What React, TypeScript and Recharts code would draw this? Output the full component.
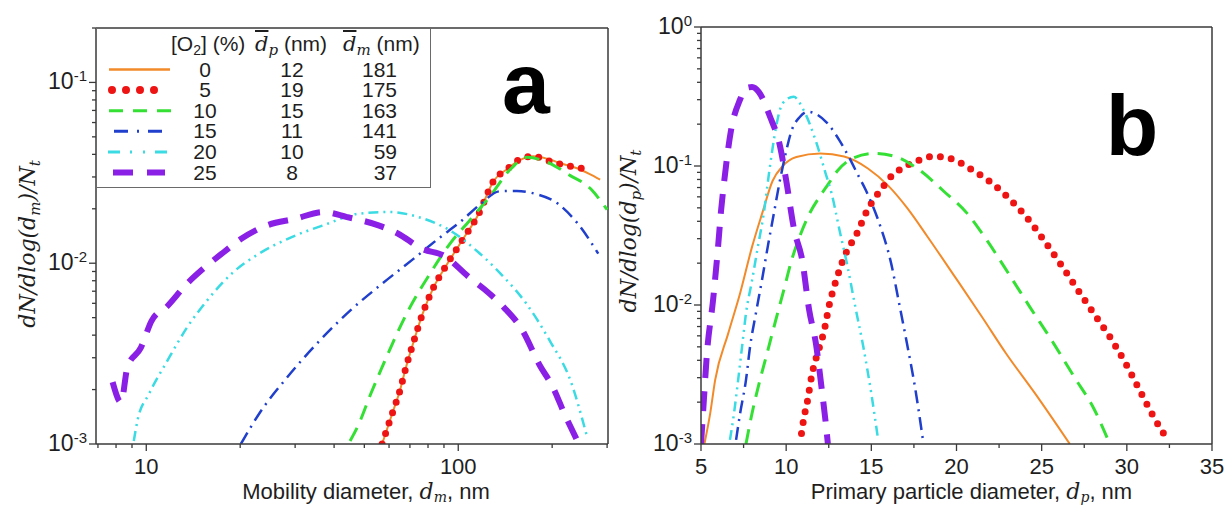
import React from 'react';
import { LineChart, Line, XAxis, YAxis, Legend, ReferenceLine } from 'recharts';

const SANS = 'Arial, "Liberation Sans", sans-serif';
const SERIF = '"DejaVu Serif", "Liberation Serif", serif';
const INK = '#1e1e1e';
const FRAME = '#3a3a3a';

type Pt = [number, number];

// legend table
const o2Levels = ['0', '5', '10', '15', '20', '25'];
const dpMean = ['12', '19', '15', '11', '10', '8'];
const dmMean = ['181', '175', '163', '141', '59', '37'];

// (a) mobility diameter, nm -> dN/dlog(dm)/Nt
const dm0: Pt[] = [
  [57, 0.001], [61.4, 0.00147], [65, 0.00197], [68, 0.00266], [72, 0.0037], [76.7, 0.0052],
  [83.5, 0.0074], [91.5, 0.0097], [103, 0.0134], [116, 0.0186], [130, 0.0286], [144, 0.0333],
  [156, 0.0368], [174, 0.039], [193, 0.0378], [214, 0.0356], [239, 0.0336], [263, 0.0312], [285, 0.029],
];
const dm5: Pt[] = [
  [57, 0.001], [61.4, 0.00147], [65, 0.00197], [68, 0.00266], [72, 0.0037], [76.7, 0.0052],
  [83.5, 0.0074], [91.5, 0.0097], [103, 0.0134], [116, 0.0186], [130, 0.0286], [144, 0.0333],
  [156, 0.0372], [174, 0.039], [193, 0.037], [214, 0.0352], [239, 0.0339], [265, 0.0327],
];
const dm10: Pt[] = [
  [45, 0.00104], [48, 0.00129], [52.4, 0.00189], [57, 0.00266], [62, 0.0037], [70, 0.0057],
  [81, 0.0087], [94, 0.0128], [109, 0.0173], [126, 0.0233], [148, 0.0335], [166, 0.0385],
  [185, 0.0372], [207, 0.034], [228, 0.0306], [250, 0.028], [268, 0.0254], [285, 0.0223], [300, 0.0198],
];
const dm15: Pt[] = [
  [20.1, 0.001], [23, 0.00147], [28.3, 0.00234], [35.8, 0.0037], [45.2, 0.0055], [57, 0.0077],
  [72, 0.0106], [86, 0.0136], [103, 0.0173], [118, 0.0213], [136, 0.025], [154, 0.0251],
  [175, 0.0243], [209, 0.0213], [242, 0.0165], [281, 0.0113],
];
const dm20: Pt[] = [
  [9.12, 0.00104], [9.39, 0.00137], [10.2, 0.00189], [11.7, 0.0029], [13.5, 0.0044], [15.7, 0.00625],
  [18.7, 0.0087], [23, 0.0113], [28.3, 0.0136], [38, 0.0165], [48, 0.0188], [60.5, 0.0192],
  [74.5, 0.018], [94, 0.0152], [116, 0.0115], [138, 0.0086], [165, 0.006], [197, 0.0037],
  [229, 0.00224], [259, 0.00109],
];
const dm25: Pt[] = [
  [7.8, 0.0022], [8.3, 0.0017], [8.7, 0.00266], [9.6, 0.0034], [10.4, 0.0048], [11.7, 0.0058],
  [13.5, 0.0077], [15.2, 0.0093], [17.7, 0.0115], [20.1, 0.0136], [24.4, 0.0162], [30, 0.0176],
  [36.9, 0.0192], [44, 0.018], [55.5, 0.0162], [64, 0.0146], [76.7, 0.012], [90, 0.011],
  [108, 0.0084], [121, 0.0072], [140, 0.0057], [160, 0.0043], [183, 0.0027], [200, 0.0021],
  [219, 0.00147], [239, 0.00107],
];

// (b) primary particle diameter, nm -> dN/dlog(dp)/Nt
const dp0: Pt[] = [
  [5.2, 0.001], [5.54, 0.00166], [5.83, 0.00288], [6.59, 0.0062], [7.3, 0.0122], [8.0, 0.0263],
  [8.6, 0.046], [9.2, 0.078], [9.8, 0.1], [10.6, 0.116], [12.0, 0.123], [13.4, 0.117],
  [14.8, 0.096], [16.0, 0.072], [17.1, 0.05], [18.3, 0.031], [19.9, 0.016], [21.5, 0.0082],
  [22.9, 0.0045], [24.6, 0.00232], [26.65, 0.001],
];
const dp5: Pt[] = [
  [10.9, 0.00119], [11.02, 0.00149], [11.26, 0.00207], [11.5, 0.0031], [11.96, 0.005], [12.2, 0.0063],
  [12.53, 0.01], [13.0, 0.016], [13.6, 0.025], [14.06, 0.031], [14.76, 0.048], [15.7, 0.071],
  [16.16, 0.084], [16.97, 0.099], [17.8, 0.11], [18.6, 0.117], [19.4, 0.115], [20.25, 0.105],
  [20.9, 0.094], [22.1, 0.075], [22.8, 0.063], [23.17, 0.057], [24.1, 0.043], [25.15, 0.029],
  [26.2, 0.019], [27.13, 0.0128], [28.06, 0.0087], [29.0, 0.0059], [29.93, 0.0038], [30.75, 0.00244],
  [31.57, 0.00157], [32.4, 0.00107],
];
const dp10: Pt[] = [
  [7.64, 0.001], [8.0, 0.00167], [8.46, 0.00288], [8.92, 0.0047], [9.39, 0.0078], [9.86, 0.0128],
  [10.32, 0.021], [10.79, 0.031], [11.38, 0.0457], [11.96, 0.06], [12.5, 0.075], [13.0, 0.092],
  [14.0, 0.115], [15.2, 0.123], [16.4, 0.117], [17.8, 0.094], [19.3, 0.065], [20.6, 0.046],
  [21.8, 0.029], [23.17, 0.016], [24.3, 0.0097], [25.7, 0.0053], [26.9, 0.00305], [28.06, 0.0018],
  [29.0, 0.001],
];
const dp15: Pt[] = [
  [7.06, 0.00107], [7.3, 0.00167], [7.64, 0.00288], [7.88, 0.005], [8.22, 0.0087], [8.58, 0.0151],
  [8.92, 0.0263], [9.28, 0.0457], [9.6, 0.075], [9.95, 0.12], [10.32, 0.18], [10.8, 0.225],
  [11.26, 0.246], [11.8, 0.235], [12.4, 0.204], [13.1, 0.155], [13.7, 0.115], [14.2, 0.087],
  [14.7, 0.066], [15.46, 0.039], [16.16, 0.02], [16.63, 0.0103], [17.09, 0.0053], [17.56, 0.00258],
  [18.03, 0.00107],
];
const dp20: Pt[] = [
  [6.7, 0.00107], [6.94, 0.00167], [7.18, 0.00288], [7.41, 0.005], [7.64, 0.0087], [8.0, 0.0151],
  [8.34, 0.0263], [8.69, 0.046], [9.0, 0.09], [9.3, 0.16], [9.62, 0.25], [10.0, 0.3],
  [10.44, 0.315], [11.02, 0.253], [11.72, 0.154], [12.31, 0.089], [12.66, 0.064], [13.13, 0.0347],
  [13.6, 0.019], [14.06, 0.0097], [14.53, 0.005], [15.0, 0.0023], [15.4, 0.00107],
];
const dp25: Pt[] = [
  [5.0, 0.001], [5.12, 0.00167], [5.35, 0.0045], [5.71, 0.0109], [6.0, 0.0261], [6.18, 0.048],
  [6.35, 0.0755], [6.76, 0.18], [7.29, 0.3], [7.65, 0.364], [8.0, 0.37], [8.4, 0.34],
  [9.06, 0.225], [9.65, 0.137], [10.0, 0.079], [10.47, 0.0347], [10.94, 0.0211], [11.35, 0.0092],
  [11.76, 0.00515], [12.06, 0.00265], [12.35, 0.00132], [12.45, 0.001],
];

// ticks
const aXMajor = [10, 100];
const aXMinor = [7, 8, 9, 20, 30, 40, 50, 60, 70, 80, 90, 200, 300];
const aYMajor = [0.001, 0.01, 0.1];
const aYMinor = [
  0.002, 0.003, 0.004, 0.005, 0.006, 0.007, 0.008, 0.009,
  0.02, 0.03, 0.04, 0.05, 0.06, 0.07, 0.08, 0.09, 0.2,
];
const bXMajor = [5, 10, 15, 20, 25, 30, 35];
const bXMinor = [7.5, 12.5, 17.5, 22.5, 27.5, 32.5];
const bYMajor = [0.001, 0.01, 0.1, 1];
const bYMinor = [
  0.002, 0.003, 0.004, 0.005, 0.006, 0.007, 0.008, 0.009,
  0.02, 0.03, 0.04, 0.05, 0.06, 0.07, 0.08, 0.09,
  0.2, 0.3, 0.4, 0.5, 0.6, 0.7, 0.8, 0.9,
];

const looks = [
  { color: '#f28a2a', width: 2, dash: undefined as string | undefined, cap: 'butt' },
  { color: '#ee1414', width: 7, dash: '0 11', cap: 'round' },
  { color: '#35e035', width: 3, dash: '15 9', cap: 'butt' },
  { color: '#1f3fcc', width: 2.5, dash: '13 6 2 6', cap: 'butt' },
  { color: '#3adbe3', width: 2.5, dash: '10 5 2 5 2 5', cap: 'butt' },
  { color: '#8a1fe6', width: 6, dash: '20 13', cap: 'butt' },
];

const isIn = (list: number[], v: number) => list.some((m) => Math.abs(m - v) / m < 1e-6);

const xTick = (major: number[]) => (props: any) => {
  const { x, y, payload } = props;
  const big = isIn(major, payload.value);
  return (
    <g>
      <line x1={x} x2={x} y1={y} y2={y + (big ? 7 : 4)} stroke={FRAME} strokeWidth={1.3} />
      {big && (
        <text x={x} y={y + 30} textAnchor="middle" fontFamily={SANS} fontSize={22} fill={INK}>
          {payload.value}
        </text>
      )}
    </g>
  );
};

const yTick = (major: number[]) => (props: any) => {
  const { x, y, payload } = props;
  const big = isIn(major, payload.value);
  const exp = Math.round(Math.log10(payload.value));
  return (
    <g>
      <line x1={x} x2={x - (big ? 7 : 4)} y1={y} y2={y} stroke={FRAME} strokeWidth={1.3} />
      {big && (
        <text x={x - 9} y={y + 7} textAnchor="end" fontFamily={SANS} fontSize={23} fill={INK}>
          10<tspan dy={-8} fontSize={15}>{String(exp)}</tspan>
        </text>
      )}
    </g>
  );
};

const xTitle = (text: string, sub: string, shift: number) => (props: any) => {
  const vb = props.viewBox;
  return (
    <text x={vb.x + vb.width / 2 + shift} y={vb.y + 55} textAnchor="middle" fontFamily={SANS} fontSize={22} fill={INK}>
      {text}
      <tspan fontFamily={SERIF} fontStyle="italic">d</tspan>
      <tspan fontFamily={SERIF} fontStyle="italic" fontSize={14} dy={3}>{sub}</tspan>
      <tspan dy={-3}>, nm</tspan>
    </text>
  );
};

const yTitle = (sub: string, cx: number, cyAbs: number) => () => (
  <text
    x={cx}
    y={cyAbs}
    transform={`rotate(-90 ${cx} ${cyAbs})`}
    dy={8}
    textAnchor="middle"
    fontFamily={SERIF}
    fontStyle="italic"
    fontSize={22}
    fill={INK}
  >
    dN/dlog(d<tspan fontSize={15} dy={5}>{sub}</tspan>
    <tspan dy={-5}>)/N</tspan>
    <tspan fontSize={15} dy={5}>t</tspan>
  </text>
);

const samples = [
  { x1: 12, x2: 73 },
  { x1: 15, x2: 71 },
  { x1: 12, x2: 74 },
  { x1: 17, x2: 65 },
  { x1: 11, x2: 73 },
  { x1: 16, x2: 68 },
];
const sampleDash = [undefined, '0 14', '14 10', '14 9 2 9', '12 10 2 11 2 10', '20 14'];
const sampleWidth = [2.5, 8, 3, 3, 3, 6];

function LegendTable() {
  const cell = (top: number): React.CSSProperties => ({
    position: 'absolute',
    top: top - 12,
    height: 24,
    lineHeight: '24px',
    whiteSpace: 'nowrap',
  });
  const rowY = (i: number) => 40.5 + i * 20.6;
  return (
    <div
      style={{
        position: 'relative',
        width: 335,
        height: 160,
        background: '#fff',
        border: '1.5px solid #6a6a6a',
        boxSizing: 'border-box',
        fontFamily: SANS,
        fontSize: 21,
        color: INK,
      }}
    >
      <div style={{ ...cell(15), left: 74 }}>
        [O<span style={{ fontSize: 14, position: 'relative', top: 4 }}>2</span>] (%)
      </div>
      <div style={{ ...cell(15), left: 158 }}>
        <span style={{ fontFamily: SERIF, fontStyle: 'italic', textDecoration: 'overline', fontSize: 21 }}>d</span>
        <span style={{ fontFamily: SERIF, fontStyle: 'italic', fontSize: 15, position: 'relative', top: 4 }}>p</span> (nm)
      </div>
      <div style={{ ...cell(15), left: 246 }}>
        <span style={{ fontFamily: SERIF, fontStyle: 'italic', textDecoration: 'overline', fontSize: 21 }}>d</span>
        <span style={{ fontFamily: SERIF, fontStyle: 'italic', fontSize: 15, position: 'relative', top: 4 }}>m</span> (nm)
      </div>
      <svg width={335} height={160} style={{ position: 'absolute', left: 0, top: 0 }}>
        {looks.map((lk, i) => (
          <line
            key={i}
            x1={samples[i].x1}
            x2={samples[i].x2}
            y1={rowY(i)}
            y2={rowY(i)}
            stroke={lk.color}
            strokeWidth={sampleWidth[i]}
            strokeDasharray={sampleDash[i]}
            strokeLinecap={i === 1 ? 'round' : 'butt'}
          />
        ))}
      </svg>
      {o2Levels.map((v, i) => (
        <div key={'o' + i} style={{ ...cell(rowY(i)), left: 88, width: 40, textAlign: 'center' }}>{v}</div>
      ))}
      {dpMean.map((v, i) => (
        <div key={'p' + i} style={{ ...cell(rowY(i)), left: 175, width: 40, textAlign: 'center' }}>{v}</div>
      ))}
      {dmMean.map((v, i) => (
        <div key={'m' + i} style={{ ...cell(rowY(i)), left: 250, width: 50, textAlign: 'right' }}>{v}</div>
      ))}
    </div>
  );
}

interface PanelProps {
  left: number;
  width: number;
  top: number;
  yAxisWidth: number;
  right: number;
  series: Pt[][];
  xScale: 'log' | 'linear';
  xDomain: [number, number];
  xMajor: number[];
  xMinor: number[];
  yDomain: [number, number];
  yMajor: number[];
  yMinor: number[];
  xText: string;
  xSub: string;
  xShift: number;
  ySub: string;
  yCx: number;
  yCy: number;
  withLegend?: boolean;
}

function Panel(p: PanelProps) {
  const xTicks = [...p.xMajor, ...p.xMinor].sort((a, b) => a - b);
  const yTicks = [...p.yMajor, ...p.yMinor].sort((a, b) => a - b);
  return (
    <div style={{ position: 'absolute', left: p.left, top: 0 }}>
      <LineChart width={p.width} height={506} margin={{ top: p.top, right: p.right, bottom: 0, left: 0 }}>
        <XAxis
          type="number"
          dataKey="x"
          scale={p.xScale}
          domain={p.xDomain}
          allowDataOverflow
          ticks={xTicks}
          interval={0}
          tickSize={0}
          tickMargin={0}
          tickLine={false}
          tick={xTick(p.xMajor)}
          height={62}
          axisLine={{ stroke: FRAME, strokeWidth: 1.5 }}
          label={{ content: xTitle(p.xText, p.xSub, p.xShift) }}
        />
        <YAxis
          type="number"
          dataKey="y"
          scale="log"
          domain={p.yDomain}
          allowDataOverflow
          ticks={yTicks}
          interval={0}
          tickSize={0}
          tickMargin={0}
          tickLine={false}
          tick={yTick(p.yMajor)}
          width={p.yAxisWidth}
          axisLine={{ stroke: FRAME, strokeWidth: 1.5 }}
          label={{ content: yTitle(p.ySub, p.yCx, p.yCy) }}
        />
        <ReferenceLine y={p.yDomain[1]} stroke={FRAME} strokeWidth={1.5} />
        <ReferenceLine x={p.xDomain[1]} stroke={FRAME} strokeWidth={1.5} />
        {p.series.map((pts, i) => (
          <Line
            key={i}
            data={pts.map(([x, y]) => ({ x, y }))}
            dataKey="y"
            type="monotone"
            dot={false}
            activeDot={false}
            stroke={looks[i].color}
            strokeWidth={looks[i].width}
            strokeDasharray={looks[i].dash}
            strokeLinecap={looks[i].cap as any}
            isAnimationActive={false}
          />
        ))}
        {p.withLegend && (
          <Legend
            layout="vertical"
            align="center"
            verticalAlign="middle"
            content={() => <LegendTable />}
            wrapperStyle={{ position: 'absolute', left: 96, top: 28, width: 336, height: 161, margin: 0 }}
          />
        )}
      </LineChart>
    </div>
  );
}

export default function App() {
  return (
    <div style={{ position: 'absolute', left: 0, top: 0, width: 1231, height: 506, background: '#fff' }}>
      <Panel
        left={0}
        width={615}
        top={28}
        yAxisWidth={96}
        right={7}
        series={[dm0, dm5, dm10, dm15, dm20, dm25]}
        xScale="log"
        xDomain={[6.9, 302]}
        xMajor={aXMajor}
        xMinor={aXMinor}
        yDomain={[0.001, 0.2]}
        yMajor={aYMajor}
        yMinor={aYMinor}
        xText="Mobility diameter, "
        xSub="m"
        xShift={14}
        ySub="m"
        yCx={27}
        yCy={244}
        withLegend
      />
      <Panel
        left={612}
        width={619}
        top={27}
        yAxisWidth={89}
        right={19}
        series={[dp0, dp5, dp10, dp15, dp20, dp25]}
        xScale="linear"
        xDomain={[5, 35]}
        xMajor={bXMajor}
        xMinor={bXMinor}
        yDomain={[0.001, 1]}
        yMajor={bYMajor}
        yMinor={bYMinor}
        xText="Primary particle diameter, "
        xSub="p"
        xShift={15}
        ySub="p"
        yCx={16}
        yCy={231}
      />
      <svg width={1231} height={506} style={{ position: 'absolute', left: 0, top: 0, pointerEvents: 'none' }}>
        <text x={526} y={113} textAnchor="middle" fontFamily={SANS} fontWeight="bold" fontSize={86} fill="#000">
          a
        </text>
        <text x={1132} y={155} textAnchor="middle" fontFamily={SANS} fontWeight="bold" fontSize={86} fill="#000">
          b
        </text>
      </svg>
    </div>
  );
}
